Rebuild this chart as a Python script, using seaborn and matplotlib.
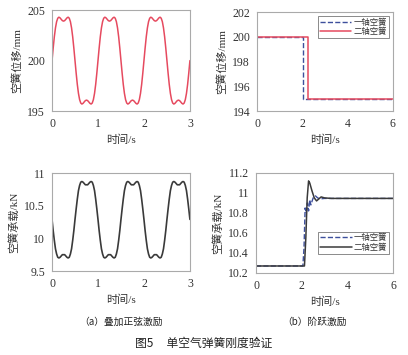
import matplotlib
matplotlib.use("Agg")
import matplotlib.pyplot as plt
import seaborn as sns
import numpy as np
from matplotlib.ticker import FormatStrFormatter

# (a) superimposed sine excitation, sampled every 0.025 s over 0..3 s
sine_time = np.linspace(0, 3, 121)
sine_disp = [
    200.00, 201.23, 202.35, 203.24, 203.86, 204.20, 204.30, 204.23, 204.09, 203.96,
    203.91, 203.96, 204.09, 204.23, 204.30, 204.20, 203.86, 203.24, 202.35, 201.23,
    200.00, 198.77, 197.65, 196.76, 196.14, 195.80, 195.70, 195.77, 195.91, 196.04,
    196.09, 196.04, 195.91, 195.77, 195.70, 195.80, 196.14, 196.76, 197.65, 198.77,
    200.00, 201.23, 202.35, 203.24, 203.86, 204.20, 204.30, 204.23, 204.09, 203.96,
    203.91, 203.96, 204.09, 204.23, 204.30, 204.20, 203.86, 203.24, 202.35, 201.23,
    200.00, 198.77, 197.65, 196.76, 196.14, 195.80, 195.70, 195.77, 195.91, 196.04,
    196.09, 196.04, 195.91, 195.77, 195.70, 195.80, 196.14, 196.76, 197.65, 198.77,
    200.00, 201.23, 202.35, 203.24, 203.86, 204.20, 204.30, 204.23, 204.09, 203.96,
    203.91, 203.96, 204.09, 204.23, 204.30, 204.20, 203.86, 203.24, 202.35, 201.23,
    200.00, 198.77, 197.65, 196.76, 196.14, 195.80, 195.70, 195.77, 195.91, 196.04,
    196.09, 196.04, 195.91, 195.77, 195.70, 195.80, 196.14, 196.76, 197.65, 198.77,
    200.00,
]
sine_load = [
    10.29, 10.12, 9.97, 9.84, 9.76, 9.71, 9.70, 9.71, 9.73, 9.75,
    9.75, 9.75, 9.73, 9.71, 9.70, 9.71, 9.76, 9.84, 9.97, 10.12,
    10.29, 10.45, 10.60, 10.73, 10.81, 10.86, 10.87, 10.86, 10.84, 10.82,
    10.82, 10.82, 10.84, 10.86, 10.87, 10.86, 10.81, 10.73, 10.60, 10.45,
    10.29, 10.12, 9.97, 9.84, 9.76, 9.71, 9.70, 9.71, 9.73, 9.75,
    9.75, 9.75, 9.73, 9.71, 9.70, 9.71, 9.76, 9.84, 9.97, 10.12,
    10.29, 10.45, 10.60, 10.73, 10.81, 10.86, 10.87, 10.86, 10.84, 10.82,
    10.82, 10.82, 10.84, 10.86, 10.87, 10.86, 10.81, 10.73, 10.60, 10.45,
    10.29, 10.12, 9.97, 9.84, 9.76, 9.71, 9.70, 9.71, 9.73, 9.75,
    9.75, 9.75, 9.73, 9.71, 9.70, 9.71, 9.76, 9.84, 9.97, 10.12,
    10.29, 10.45, 10.60, 10.73, 10.81, 10.86, 10.87, 10.86, 10.84, 10.82,
    10.82, 10.82, 10.84, 10.86, 10.87, 10.86, 10.81, 10.73, 10.60, 10.45,
    10.29,
]

# (b) step excitation
step_labels = ["一轴空簧", "二轴空簧"]
step1_time = [0, 2.05, 6]
step1_disp = [200, 195, 195]
step2_time = [0, 2.25, 6]
step2_disp = [200, 195, 195]

load1_time = [0, 2.05, 2.10, 2.15, 2.20, 2.25, 2.30, 2.35, 2.40, 2.50, 2.60, 2.70, 2.80, 3.0, 3.5, 6]
load1_val = [10.27, 10.27, 10.45, 10.85, 10.80, 10.90, 10.82, 10.93, 10.88, 10.95, 10.97, 10.95,
             10.94, 10.945, 10.945, 10.945]
load2_time = [0, 2.12, 2.18, 2.24, 2.30, 2.35, 2.45, 2.55, 2.65, 2.75, 2.85, 3.0, 3.3, 6]
load2_val = [10.27, 10.27, 10.55, 10.95, 11.12, 11.10, 11.02, 10.95, 10.92, 10.94, 10.96, 10.95,
             10.945, 10.945]

sns.set_theme(style="white")
plt.rcParams["font.family"] = ["Liberation Serif", "Noto Sans CJK SC"]
plt.rcParams["text.color"] = "#333333"
plt.rcParams["axes.labelcolor"] = "#333333"
plt.rcParams["xtick.color"] = "#333333"
plt.rcParams["ytick.color"] = "#333333"

RED = "#e64a5f"
BLUE = "#3d4f9c"
DARK = "#3a3a3a"

fig = plt.figure(figsize=(4.08, 3.55), dpi=100)
ax_a1 = fig.add_axes([0.1275, 0.687, 0.338, 0.2845])
ax_b1 = fig.add_axes([0.630, 0.687, 0.333, 0.2790])
ax_a2 = fig.add_axes([0.1275, 0.2366, 0.338, 0.276])
ax_b2 = fig.add_axes([0.6275, 0.231, 0.336, 0.282])


def style_axes(ax, xlim, xticks, ylim, yticks, ylabel):
    ax.set_xlim(*xlim)
    ax.set_ylim(*ylim)
    ax.set_xticks(xticks)
    ax.set_yticks(yticks)
    ax.yaxis.set_major_formatter(FormatStrFormatter("%g"))
    ax.set_xlabel("时间/s", fontsize=8, labelpad=3)
    ax.set_ylabel(ylabel, fontsize=8, labelpad=4)
    ax.tick_params(labelsize=8.5, direction="in", length=2, width=0.6, pad=5,
                   color="#999999")
    for sp in ax.spines.values():
        sp.set_color("#aaaaaa")
        sp.set_linewidth(0.8)


def style_legend(ax, **kw):
    leg = ax.legend(fontsize=6, frameon=True, fancybox=False, borderpad=0.25,
                    handlelength=3.8, handletextpad=0.2, labelspacing=0.15, **kw)
    leg.get_frame().set_edgecolor("#555555")
    leg.get_frame().set_linewidth(0.6)


# (a) top
sns.lineplot(x=sine_time, y=sine_disp, ax=ax_a1, color=RED, linewidth=1.1, sort=False)
style_axes(ax_a1, (0, 3), [0, 1, 2, 3], (195, 205), [195, 200, 205], "空簧位移/mm")

# (a) bottom
sns.lineplot(x=sine_time, y=sine_load, ax=ax_a2, color=DARK, linewidth=1.2, sort=False)
style_axes(ax_a2, (0, 3), [0, 1, 2, 3], (9.5, 11), [9.5, 10, 10.5, 11], "空簧承载/kN")

# (b) top
sns.lineplot(x=step1_time, y=step1_disp, ax=ax_b1, color=BLUE, linewidth=1.0,
             linestyle="--", drawstyle="steps-post", label=step_labels[0])
sns.lineplot(x=step2_time, y=step2_disp, ax=ax_b1, color=RED, linewidth=1.1,
             drawstyle="steps-post", label=step_labels[1])
style_axes(ax_b1, (0, 6), [0, 2, 4, 6], (194, 202), [194, 196, 198, 200, 202], "空簧位移/mm")
style_legend(ax_b1, loc="upper right", borderaxespad=0.5)

# (b) bottom
sns.lineplot(x=load1_time, y=load1_val, ax=ax_b2, color=BLUE, linewidth=1.0,
             linestyle="--", label=step_labels[0])
sns.lineplot(x=load2_time, y=load2_val, ax=ax_b2, color=DARK, linewidth=1.1,
             label=step_labels[1])
style_axes(ax_b2, (0, 6), [0, 2, 4, 6], (10.2, 11.2), [10.2, 10.4, 10.6, 10.8, 11, 11.2],
           "空簧承载/kN")
style_legend(ax_b2, loc="lower right", bbox_to_anchor=(1.0, 0.15), borderaxespad=0.5)

# captions
cap = ["Noto Sans CJK SC", "DejaVu Sans"]
fig.text(0.297, 0.093, "（a）叠加正弦激励", ha="center", va="center", fontsize=7,
         family=cap, color="#222222")
fig.text(0.772, 0.093, "（b）阶跃激励", ha="center", va="center", fontsize=7,
         family=cap, color="#222222")
fig.text(0.50, 0.034, "图5     单空气弹簧刚度验证", ha="center", va="center", fontsize=8.5,
         family=cap, color="#222222")

fig.savefig("out.png", dpi=100, facecolor="white")
